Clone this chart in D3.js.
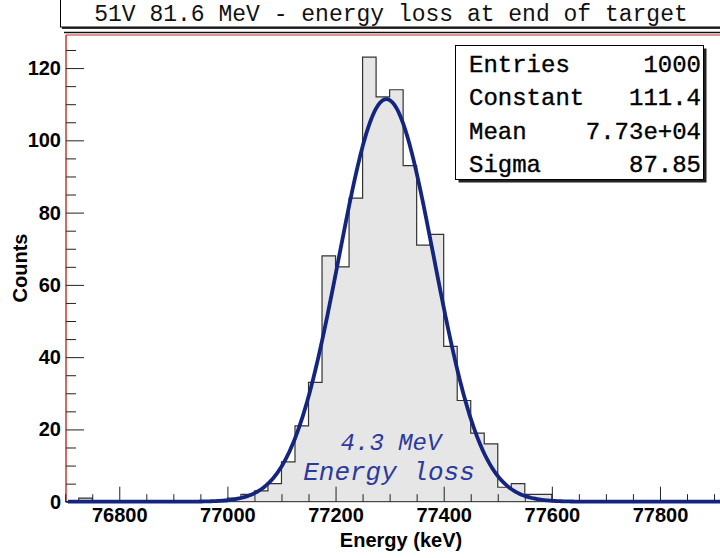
<!DOCTYPE html>
<html>
<head>
<meta charset="utf-8">
<script src="https://cdn.jsdelivr.net/npm/d3@7"></script>
<style>
  html, body { margin: 0; padding: 0; background: #fff; }
  svg { display: block; }
</style>
</head>
<body>
<svg id="chart" width="720" height="558"></svg>
<script>
// Energy-loss histogram (25 keV bins) with its Gaussian fit
const titleText = "51V 81.6 MeV - energy loss at end of target";
const binWidth = 25;
const binLow = [76725, 77000, 77025, 77050, 77075, 77100, 77125, 77150, 77175,
                77200, 77225, 77250, 77275, 77300, 77325, 77350, 77375, 77400,
                77425, 77450, 77475, 77500, 77525, 77550, 77575];
const counts = [1, 1, 2, 3, 5, 11, 21, 33, 68,
                65, 84, 123, 112, 114, 93, 71, 74, 43,
                28, 19, 16, 4, 5, 2, 2];

// Gaussian fit parameters
const fitConstant = 111.4;
const fitMean = 77294;
const fitSigma = 87.85;

const xDomain = [76700, 77950];
const xMajorTicks = [76800, 77000, 77200, 77400, 77600, 77800];
const yMajorTicks = [0, 20, 40, 60, 80, 100, 120];
const xLabel = "Energy (keV)";
const yLabel = "Counts";
const noteLines = ["4.3 MeV", "Energy loss"];

const svg = d3.select("#chart");

const plot = { left: 65.2, top: 35, bottom: 501.7 };
const x = d3.scaleLinear().domain(xDomain).range([plot.left, plot.left + 1250 * 0.5407]);
const yMax = 1.05 * d3.max(counts);
const y = d3.scaleLinear().domain([0, yMax]).range([plot.bottom, plot.top]);

// Title box
svg.append("rect").attr("x", 62).attr("y", 1).attr("width", 700).attr("height", 28).attr("fill", "#333");
svg.append("rect").attr("x", 60.5).attr("y", -1).attr("width", 700).attr("height", 28)
  .attr("fill", "#fff").attr("stroke", "#000").attr("stroke-width", 1);
svg.append("text").attr("x", 391).attr("y", 21).attr("text-anchor", "middle")
  .attr("font-family", "Liberation Mono, monospace").attr("font-size", 23)
  .attr("fill", "#111").text(titleText);

// Histogram: a step outline over the full bin grid
const countByBin = new Map(binLow.map((b, i) => [b, counts[i]]));
const grid = d3.range(xDomain[0], xDomain[1], binWidth);
const pts = [[x(xDomain[0]), y(0)]];
grid.forEach(lo => {
  const c = countByBin.get(lo) || 0;
  pts.push([x(lo), y(c)], [x(lo + binWidth), y(c)]);
});
pts.push([x(xDomain[1]), y(0)]);
const stepLine = d3.line();
svg.append("path").attr("d", stepLine(pts) + "Z").attr("fill", "#e6e6e6").attr("stroke", "none");
svg.append("path").attr("d", stepLine(pts)).attr("fill", "none")
  .attr("stroke", "#333").attr("stroke-width", 1.2);

// Frame lines
svg.append("line").attr("x1", 64).attr("x2", 720).attr("y1", 32.5).attr("y2", 32.5)
  .attr("stroke", "#111").attr("stroke-width", 1.6);
svg.append("line").attr("x1", 66).attr("x2", 720).attr("y1", plot.top).attr("y2", plot.top)
  .attr("stroke", "#c62828").attr("stroke-width", 1);
svg.append("line").attr("x1", 66).attr("x2", 66).attr("y1", plot.top).attr("y2", plot.bottom)
  .attr("stroke", "#c62828").attr("stroke-width", 1.4);

const labelFont = "Liberation Sans, Arial, sans-serif";

// Y axis: major and minor ticks pointing into the frame
const yAxis = d3.axisLeft(y).tickValues(yMajorTicks).tickSize(-18).tickPadding(5).tickFormat(d3.format("d"));
const gy = svg.append("g").attr("transform", "translate(66,0)").call(yAxis);
gy.select(".domain").remove();
gy.selectAll(".tick line").attr("stroke", "#222");
gy.selectAll("text").attr("font-family", labelFont).attr("font-weight", "bold")
  .attr("font-size", 20).attr("fill", "#000");
const yMinor = d3.axisLeft(y).tickValues(d3.range(0, yMax, 5).filter(v => v % 20 !== 0)).tickSize(-10).tickFormat("");
const gym = svg.append("g").attr("transform", "translate(66,0)").call(yMinor);
gym.select(".domain").remove();
gym.selectAll(".tick line").attr("stroke", "#222");

// X axis
const xAxis = d3.axisBottom(x).tickValues(xMajorTicks).tickSize(-15).tickPadding(6).tickFormat(d3.format("d"));
const gx = svg.append("g").attr("transform", `translate(0,${plot.bottom})`).call(xAxis);
gx.select(".domain").remove();
gx.selectAll(".tick line").attr("stroke", "#222");
gx.selectAll("text").attr("font-family", labelFont).attr("font-weight", "bold")
  .attr("font-size", 20).attr("fill", "#000");
const xMinor = d3.axisBottom(x).tickValues(d3.range(xDomain[0], xDomain[1] + 1, 50).filter(v => !xMajorTicks.includes(v)))
  .tickSize(-7.5).tickFormat("");
const gxm = svg.append("g").attr("transform", `translate(0,${plot.bottom})`).call(xMinor);
gxm.select(".domain").remove();
gxm.selectAll(".tick line").attr("stroke", "#222");
svg.append("line").attr("x1", 66).attr("x2", 720).attr("y1", plot.bottom).attr("y2", plot.bottom)
  .attr("stroke", "#222").attr("stroke-width", 1);

// Axis titles
svg.append("text").attr("x", 401).attr("y", 547).attr("text-anchor", "middle")
  .attr("font-family", labelFont).attr("font-weight", "bold").attr("font-size", 20)
  .attr("fill", "#000").text(xLabel);
svg.append("text").attr("transform", "translate(27,268) rotate(-90)").attr("text-anchor", "middle")
  .attr("font-family", labelFont).attr("font-weight", "bold").attr("font-size", 20)
  .attr("fill", "#000").text(yLabel);

// Gaussian fit curve
const gauss = e => fitConstant * Math.exp(-0.5 * ((e - fitMean) / fitSigma) ** 2);
const fitPts = d3.range(xDomain[0] + 5, xDomain[1], 2).map(e => [x(e), y(gauss(e))]);
svg.append("path").attr("d", d3.line()(fitPts)).attr("fill", "none")
  .attr("stroke", "#142580").attr("stroke-width", 3.8).attr("stroke-linejoin", "round");

// Annotation
const noteFont = "Liberation Mono, monospace";
svg.append("text").attr("x", 391).attr("y", 449.5).attr("text-anchor", "middle")
  .attr("font-family", noteFont).attr("font-style", "italic").attr("font-size", 24)
  .attr("fill", "#2b3a9c").text(noteLines[0]);
svg.append("text").attr("x", 389).attr("y", 479.5).attr("text-anchor", "middle")
  .attr("font-family", noteFont).attr("font-style", "italic").attr("font-size", 26)
  .attr("fill", "#2b3a9c").text(noteLines[1]);

// Statistics box
const fmtSci = v => {
  const [m, e] = v.toExponential(2).split("e");
  const sign = e[0] === "-" ? "-" : "+";
  const digits = e.replace(/[+-]/, "").padStart(2, "0");
  return `${m}e${sign}${digits}`;
};
const statNames = ["Entries", "Constant", "Mean", "Sigma"];
const statValues = [String(d3.sum(counts)), fitConstant.toFixed(1), fmtSci(fitMean), fitSigma.toFixed(2)];
const box = { x: 455.5, y: 45.5, w: 248, h: 134 };
svg.append("rect").attr("x", box.x + 3).attr("y", box.y + 3).attr("width", box.w).attr("height", box.h).attr("fill", "#222");
svg.append("rect").attr("x", box.x).attr("y", box.y).attr("width", box.w).attr("height", box.h)
  .attr("fill", "#fff").attr("stroke", "#000").attr("stroke-width", 1);
statNames.forEach((name, i) => {
  const by = 72 + i * 33.3;
  svg.append("text").attr("x", 469).attr("y", by).attr("font-family", noteFont)
    .attr("font-size", 24).attr("fill", "#000").attr("stroke", "#000").attr("stroke-width", 0.35)
    .text(name);
  svg.append("text").attr("x", 701).attr("y", by).attr("text-anchor", "end").attr("font-family", noteFont)
    .attr("font-size", 24).attr("fill", "#000").attr("stroke", "#000").attr("stroke-width", 0.35)
    .text(statValues[i]);
});
</script>
</body>
</html>
